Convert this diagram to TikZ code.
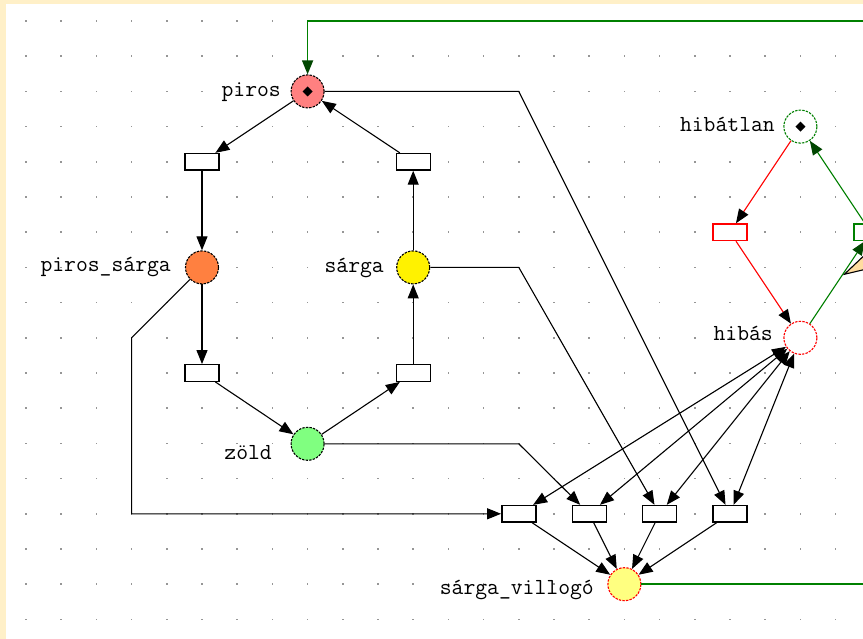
\documentclass[tikz,border=0pt]{standalone}
\usepackage{fontspec}
\usetikzlibrary{arrows.meta}
\definecolor{cream}{RGB}{255,240,200}
\definecolor{dotc}{RGB}{150,150,150}
\definecolor{gline}{RGB}{0,128,0}
\definecolor{ghead}{RGB}{0,70,0}
\definecolor{salmon}{RGB}{255,128,128}
\definecolor{orng}{RGB}{255,128,64}
\definecolor{lgreen}{RGB}{128,255,128}
\definecolor{lyellow}{RGB}{255,255,128}
\definecolor{tan}{RGB}{255,220,160}
\newcommand{\lblfont}{\ttfamily\addfontfeatures{FakeBold=1.4}\fontsize{23}{23}\selectfont}
\begin{document}
\begin{tikzpicture}[x=1pt,y=-1pt,
  place/.style={circle, minimum size=33pt, inner sep=0pt, draw=black, line width=1.1pt, dash pattern=on 2.4pt off 1.2pt},
  trans/.style={rectangle, minimum width=34pt, minimum height=16.5pt, inner sep=0pt, draw=black, fill=white, line width=1.4pt},
  arc/.style={line width=1.1pt, -{Triangle[length=14pt,width=11pt]}},
  darc/.style={line width=1.1pt, {Triangle[length=14pt,width=11pt]}-{Triangle[length=14pt,width=11pt]}},
  rarc/.style={line width=1.1pt, red, -{Triangle[length=14pt,width=11pt,black]}},
  garc/.style={line width=1.1pt, gline, -{Triangle[length=14pt,width=11pt,ghead]}},
  lbl/.style={anchor=base east, inner sep=0pt, font=\lblfont},
  tok/.style={fill=black}
]
\useasboundingbox (0,0) rectangle (863,639);
\clip (0,0) rectangle (863,639);
\fill[cream] (0,0) rectangle (863,639);
\fill[white] (6,4) rectangle (863,639);
\foreach \i in {0,...,23}
  \foreach \j in {0,...,17}
    \fill[dotc] ({26+35.2*\i-0.75},{21+35.2*\j-0.75}) rectangle +(1.5,1.5);

% places
\node[place, fill=salmon] (piros) at (307.6,91.4) {};
\node[place, fill=orng] (ps) at (202,267.4) {};
\node[place, fill=yellow] (sarga) at (413.2,267.4) {};
\node[place, fill=lgreen] (zold) at (307.6,443.8) {};
\node[place, fill=lyellow, draw=red] (sv) at (624.4,584.2) {};
\node[place, fill=white, draw=gline] (hibatlan) at (800.4,126.6) {};
\node[place, fill=white, draw=red] (hibas) at (800.4,337.8) {};

% tokens
\fill[tok, shift={(piros.center)}] (0,-5) -- (5,0) -- (0,5) -- (-5,0) -- cycle;
\fill[tok, shift={(hibatlan.center)}] (0,-5) -- (5,0) -- (0,5) -- (-5,0) -- cycle;

% transitions
\node[trans] (ttl) at (202,161.8) {};
\node[trans] (ttr) at (413.2,161.8) {};
\node[trans] (tbl) at (202,373) {};
\node[trans] (tbr) at (413.2,373) {};
\node[trans] (t1) at (518.8,513.8) {};
\node[trans] (t2) at (589.2,513.8) {};
\node[trans] (t3) at (659.6,513.8) {};
\node[trans] (t4) at (730,513.8) {};
\node[trans, draw=red] (tred) at (730,232.2) {};
\node[trans, draw=gline] (tgreen) at (870.8,232.2) {};

% bend coordinates
\coordinate (b1) at (518.8,91.4);
\coordinate (b2) at (518.8,267.4);
\coordinate (b3) at (518.8,443.8);
\coordinate (b4) at (131.6,337.8);
\coordinate (b5) at (131.6,513.8);
\coordinate (g1) at (905,584.2);
\coordinate (g2) at (905,21);
\coordinate (g3) at (307.6,21);

% callout pointer (cut off at right edge)
\filldraw[fill=tan, draw=black, line width=1.1pt] (844.3,274.3) -- (890,231) -- (890,263.5) -- cycle;

% cycle arcs
\draw[arc] (piros) -- (ttl);
\draw[arc] (ttl) -- (ps);
\draw[arc] (ps) -- (tbl);
\draw[arc] (tbl) -- (zold);
\draw[arc] (zold) -- (tbr);
\draw[arc] (tbr) -- (sarga);
\draw[arc] (sarga) -- (ttr);
\draw[arc] (ttr) -- (piros);

% long arcs
\draw[arc] (piros) -- (b1) -- (t4);
\draw[arc] (sarga) -- (b2) -- (t3);
\draw[arc] (zold) -- (b3) -- (t2);
\draw[arc] (ps) -- (b4) -- (b5) -- (t1);

% hibas double arcs
\draw[darc] (hibas) -- (t1);
\draw[darc] (hibas) -- (t2);
\draw[darc] (hibas) -- (t3);
\draw[darc] (hibas) -- (t4);

% into sarga_villogo
\draw[arc] (t1) -- (sv);
\draw[arc] (t2) -- (sv);
\draw[arc] (t3) -- (sv);
\draw[arc] (t4) -- (sv);

% right net
\draw[rarc] (hibatlan) -- (tred);
\draw[rarc] (tred) -- (hibas);
\draw[garc] (hibas) -- (tgreen);
\draw[garc] (tgreen) -- (hibatlan);

% long green arc back to piros
\draw[garc, line width=1.6pt] (sv) -- (g1) -- (g2) -- (g3) -- (piros);

% labels
\node[lbl] (lpiros) at (281,97) {piros};
\node[lbl] (lps) at (171,272) {piros\_sárga};
\node[lbl] (lsarga) at (384,273) {sárga};
\node[lbl] (lzold) at (272,459) {zöld};
\node[lbl] (lhibatlan) at (775,132) {hibátlan};
\node[lbl] (lhibas) at (773,341) {hibás};
\node[lbl] (lsv) at (594,594) {sárga\_villogó};
\end{tikzpicture}
\end{document}
